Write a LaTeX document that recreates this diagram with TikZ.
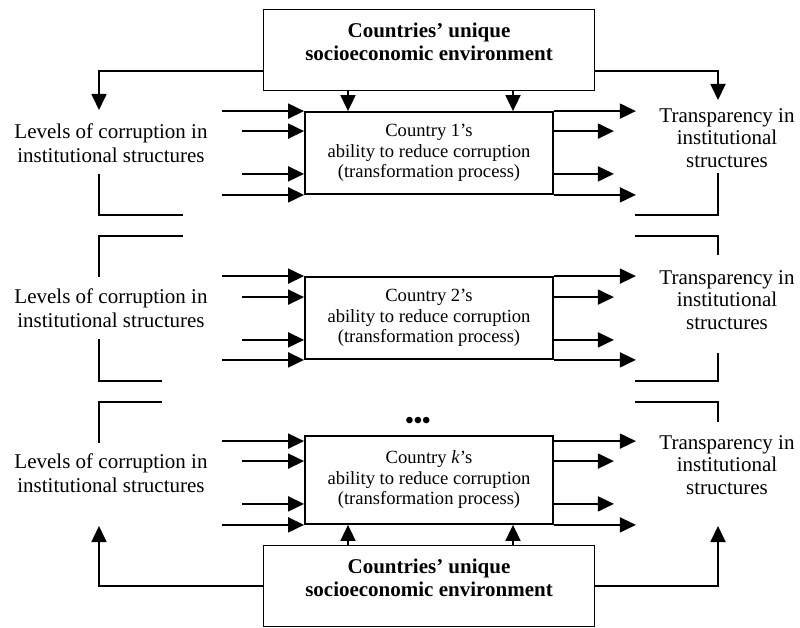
\documentclass[tikz,border=0pt]{standalone}
\usepackage{fontspec}
\setmainfont{Liberation Serif}
\usetikzlibrary{arrows.meta}

\begin{document}
\begin{tikzpicture}
    [x=1pt,y=-1pt,line width=1.8pt,
arr/.style={-{Triangle[length=16pt,width=15pt]}},
cbox/.style={rectangle,draw,minimum width=248pt,minimum height=82pt,inner sep=0pt,
  align=center,font=\fontsize{18.6}{20.5}\selectfont},
envbox/.style={rectangle,draw,minimum width=331pt,minimum height=81pt},
envtxt/.style={align=center,font=\fontsize{21}{23}\selectfont\bfseries},
lbl/.style={align=center,font=\fontsize{21}{24.5}\selectfont},
rlbl/.style={align=center,font=\fontsize{21}{22.5}\selectfont}
]
\useasboundingbox (0,0) rectangle (800,628);

% environment boxes
\node[envbox] (envtop) at (429,50) {};
\node[envtxt] (envtoptxt) at ([yshift=8pt]envtop.center) {Countries’ unique\\socioeconomic environment};
\node[envbox] (envbot) at (429,586) {};
\node[envtxt] (envbottxt) at ([yshift=8pt]envbot.center) {Countries’ unique\\socioeconomic environment};

% countries
\node[cbox] (c1) at (429,153) {Country 1’s\\ability to reduce corruption\\(transformation process)};
\node[cbox] (c2) at (429,318) {Country 2’s\\ability to reduce corruption\\(transformation process)};
\node[cbox,minimum height=88pt] (ck) at (429,480) {Country \textit{k}’s\\ability to reduce corruption\\(transformation process)};
\node[font=\fontsize{24}{24}\selectfont\bfseries] (dots) at (418,423) {\textbullet\textbullet\textbullet};

% inputs and outputs
\node[lbl] (lev1) at (111,143) {Levels of corruption in\\institutional structures};
\node[lbl] (lev2) at (111,308) {Levels of corruption in\\institutional structures};
\node[lbl] (lev3) at (111,473) {Levels of corruption in\\institutional structures};
\node[rlbl] (tr1) at (727,138) {Transparency in\\institutional\\structures};
\node[rlbl] (tr2) at (727,300) {Transparency in\\institutional\\structures};
\node[rlbl] (tr3) at (727,465) {Transparency in\\institutional\\structures};

\coordinate (levtop) at (99,110);
\coordinate (trtop) at (718,100);
\coordinate (levbot) at (99,526);
\coordinate (trbot) at (718,526);

% environment arrows
\draw[arr] ([xshift=-81pt]envtop.south) -- ([xshift=-81pt]c1.north);
\draw[arr] ([xshift=84pt]envtop.south) -- ([xshift=84pt]c1.north);
\draw[arr] ([yshift=-21pt]envtop.west) -| (levtop);
\draw[arr] ([yshift=-21pt]envtop.east) -| (trtop);
\draw[arr] ([xshift=-81pt]envbot.north) -- ([xshift=-81pt]ck.south);
\draw[arr] ([xshift=84pt]envbot.north) -- ([xshift=84pt]ck.south);
\draw[arr] (envbot.west) -| (levbot);
\draw[arr] (envbot.east) -| (trbot);

% country 1
\draw[arr] ([xshift=-82pt]c1.north west) -- (c1.north west);
\draw[arr] ([shift={(-62pt,-20pt)}]c1.north west) -- ([yshift=-20pt]c1.north west);
\draw[arr] ([shift={(-62pt,21pt)}]c1.south west) -- ([yshift=21pt]c1.south west);
\draw[arr] ([xshift=-82pt]c1.south west) -- (c1.south west);
\draw[arr] (c1.north east) -- ([xshift=82pt]c1.north east);
\draw[arr] ([yshift=-20pt]c1.north east) -- ([shift={(60pt,-20pt)}]c1.north east);
\draw[arr] ([yshift=21pt]c1.south east) -- ([shift={(60pt,21pt)}]c1.south east);
\draw[arr] (c1.south east) -- ([xshift=82pt]c1.south east);

% country 2
\draw[arr] ([xshift=-82pt]c2.north west) -- (c2.north west);
\draw[arr] ([shift={(-62pt,-21pt)}]c2.north west) -- ([yshift=-21pt]c2.north west);
\draw[arr] ([shift={(-62pt,20pt)}]c2.south west) -- ([yshift=20pt]c2.south west);
\draw[arr] ([xshift=-82pt]c2.south west) -- (c2.south west);
\draw[arr] (c2.north east) -- ([xshift=82pt]c2.north east);
\draw[arr] ([yshift=-21pt]c2.north east) -- ([shift={(60pt,-21pt)}]c2.north east);
\draw[arr] ([yshift=20pt]c2.south east) -- ([shift={(60pt,20pt)}]c2.south east);
\draw[arr] (c2.south east) -- ([xshift=82pt]c2.south east);

% country k
\draw[arr] ([shift={(-82pt,-6pt)}]ck.north west) -- ([yshift=-6pt]ck.north west);
\draw[arr] ([shift={(-62pt,-26pt)}]ck.north west) -- ([yshift=-26pt]ck.north west);
\draw[arr] ([shift={(-62pt,21pt)}]ck.south west) -- ([yshift=21pt]ck.south west);
\draw[arr] ([xshift=-82pt]ck.south west) -- (ck.south west);
\draw[arr] ([yshift=-6pt]ck.north east) -- ([shift={(82pt,-6pt)}]ck.north east);
\draw[arr] ([yshift=-26pt]ck.north east) -- ([shift={(60pt,-26pt)}]ck.north east);
\draw[arr] ([yshift=21pt]ck.south east) -- ([shift={(60pt,21pt)}]ck.south east);
\draw[arr] (ck.south east) -- ([xshift=82pt]ck.south east);

% brackets
\draw (99,174) -- (99,215) -- (183,215);
\draw (183,236) -- (99,236) -- (99,277);
\draw (99,339) -- (99,381) -- (162,381);
\draw (162,402) -- (99,402) -- (99,443);
\draw (718,173) -- (718,215) -- (635,215);
\draw (635,236) -- (718,236) -- (718,255);
\draw (718,353) -- (718,381) -- (635,381);
\draw (635,402) -- (718,402) -- (718,422);
\end{tikzpicture}
\end{document}
